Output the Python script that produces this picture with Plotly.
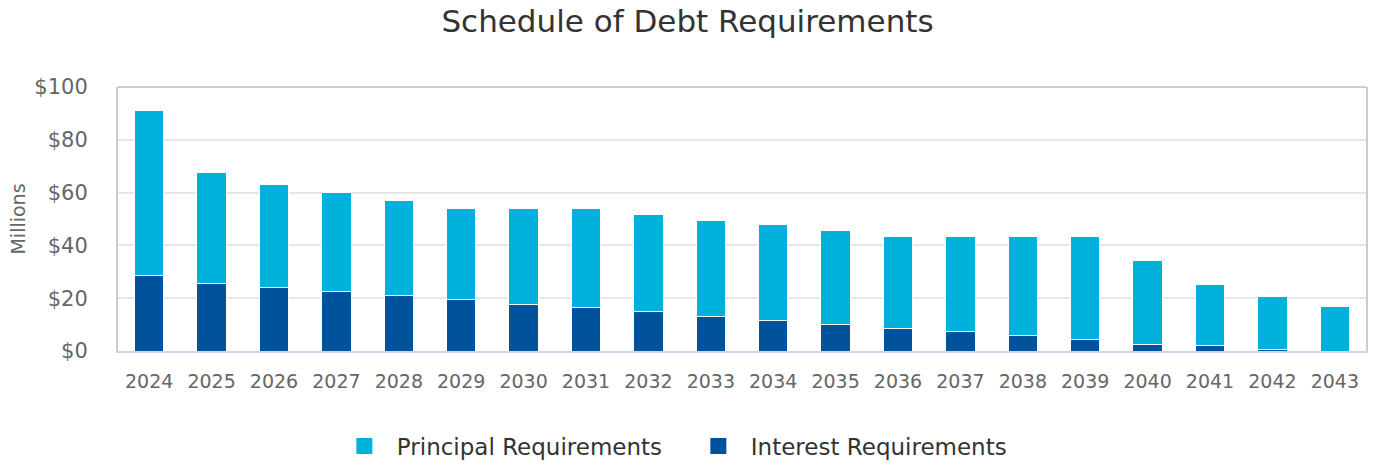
import plotly.graph_objects as go

years = [str(y) for y in range(2024, 2044)]
interest = [28.5, 25.5, 24.0, 22.4, 20.9, 19.4, 17.8, 16.3, 14.8, 13.2,
            11.7, 10.2, 8.7, 7.2, 5.7, 4.2, 2.6, 1.9, 0.5, 0.0]
totals = [91.2, 67.7, 63.2, 60.2, 57.1, 54.1, 54.1, 54.1, 51.8, 49.6,
          48.0, 45.8, 43.5, 43.5, 43.5, 43.5, 34.4, 25.3, 20.8, 17.0]
principal = [round(t - i, 2) for t, i in zip(totals, interest)]

y_ticks = [0, 20, 40, 60, 80, 100]
y_tick_text = ["$0", "$20", "$40", "$60", "$80", "$100"]

FONT = "DejaVu Sans"
C_PRIN = "#00b2db"
C_INT = "#00539b"

fig = go.Figure()
fig.add_trace(go.Bar(x=years, y=interest, name="Interest Requirements",
                     marker=dict(color=C_INT, line=dict(color="white", width=1)),
                     showlegend=False))
fig.add_trace(go.Bar(x=years, y=principal, name="Principal Requirements",
                     marker=dict(color=C_PRIN, line=dict(color="white", width=1)),
                     showlegend=False))
# legend entries with larger square symbols
fig.add_trace(go.Scatter(x=[None], y=[None], mode="markers", name="Principal Requirements",
                         marker=dict(symbol="square", size=22, color=C_PRIN), legendrank=1))
fig.add_trace(go.Scatter(x=[None], y=[None], mode="markers", name="Interest Requirements",
                         marker=dict(symbol="square", size=22, color=C_INT), legendrank=2))

fig.add_shape(type="line", xref="paper", yref="paper", x0=0, x1=1, y0=1, y1=1,
              line=dict(color="#cccccc", width=2), layer="above")

fig.update_layout(
    barmode="stack",
    bargap=0.53,
    width=1375, height=466,
    margin=dict(l=118, r=9, t=87, b=115),
    paper_bgcolor="white", plot_bgcolor="white",
    font=dict(family=FONT, color="#666666"),
    title=dict(text="Schedule of Debt Requirements", x=0.5, xanchor="center",
               y=1 - 21 / 466, yref="container", yanchor="middle",
               font=dict(family=FONT, size=31, color="#333333")),
    legend=dict(orientation="h", x=0.455, xanchor="center",
                yref="container", y=1 - 446 / 466, yanchor="middle",
                font=dict(family=FONT, size=23, color="#333333"),
                entrywidth=284, itemwidth=55, itemsizing="trace", traceorder="normal"),
    showlegend=True,
)
fig.update_xaxes(type="category", showgrid=False, showline=True, linecolor="#ccd6eb",
                 linewidth=2, tickfont=dict(size=19, color="#666666"),
                 ticklabelstandoff=12, fixedrange=True, automargin=False)
fig.update_yaxes(range=[0, 100], tickvals=y_ticks, ticktext=y_tick_text,
                 showgrid=True, gridcolor="#e6e6e6", gridwidth=2,
                 showline=True, linecolor="#cccccc", linewidth=2, mirror=True,
                 zeroline=False, automargin=False, fixedrange=True,
                 tickfont=dict(size=21, color="#666666"), ticklabelstandoff=24,
                 title=dict(text="Millions", font=dict(size=19, color="#666666"), standoff=4))

fig.write_html("out.html", config={"displayModeBar": False},
               post_script="document.body.style.margin='0';")
